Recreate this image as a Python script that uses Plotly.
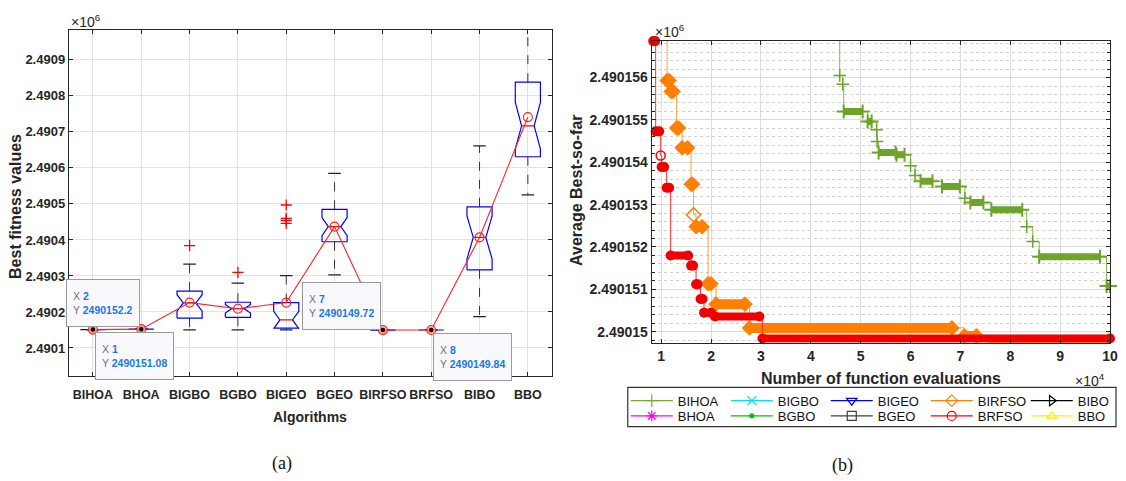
import plotly.graph_objects as go

FIG_W, FIG_H = 1126, 481

# ---------------- (a) best fitness of each algorithm ----------------
ALGORITHMS = ["BIHOA", "BHOA", "BIGBO", "BGBO", "BIGEO", "BGEO", "BIRFSO", "BRFSO", "BIBO", "BBO"]
Q1 = [2490151.08, 2490152.2, 2490183, 2490185, 2490155, 2490395, 2490149.72, 2490149.84, 2490317, 2490631]
MEDIAN = [2490151.08, 2490152.2, 2490225, 2490209, 2490178, 2490437, 2490149.72, 2490149.84, 2490407, 2490717]
Q3 = [2490151.08, 2490152.2, 2490258, 2490227, 2490226, 2490485, 2490149.72, 2490149.84, 2490492, 2490838]
WHISKER_LOW = [2490151.08, 2490152.2, 2490150, 2490150, 2490150, 2490303, 2490149.72, 2490149.84, 2490187, 2490525]
WHISKER_HIGH = [2490151.08, 2490152.2, 2490333, 2490280, 2490301, 2490585, 2490149.72, 2490149.84, 2490661, 2491000]
NOTCH_HALF = [0, 0, 23, 12, 24, 25, 0, 0, 60, 65]
MEAN = [2490151.08, 2490152.2, 2490226, 2490209, 2490226, 2490437, 2490149.72, 2490149.84, 2490407, 2490741]
OUTLIER_POS = [3, 4, 5, 5, 5, 5]
OUTLIER_VAL = [2490384, 2490310, 2490497, 2490460, 2490454, 2490446]
DATATIP_POS = [2, 1, 7, 8]

A_YTICKS = [2490100, 2490200, 2490300, 2490400, 2490500, 2490600, 2490700, 2490800, 2490900]
A_YTICKTEXT = ["2.4901", "2.4902", "2.4903", "2.4904", "2.4905", "2.4906", "2.4907", "2.4908", "2.4909"]

# ---------------- (b) average best-so-far curves (flat levels) ----------------
BIHOA_X0 = [45000, 45800, 46400, 46600, 51400, 53200, 53300, 53600, 57200, 60000, 60900, 62000, 66300, 70900, 72000, 76200, 83300, 84500, 85800, 99300]
BIHOA_X1 = [45500, 45800, 46400, 50400, 52200, 53200, 53300, 57000, 58800, 60000, 60900, 64400, 69900, 70900, 74600, 82400, 83300, 84500, 98000, 100000]
BIHOA_Y = [2490157.30, 2490156.05, 2490155.84, 2490155.20, 2490154.96, 2490154.77, 2490154.49, 2490154.23, 2490154.18,
           2490153.92, 2490153.69, 2490153.55, 2490153.43, 2490153.15, 2490153.05, 2490152.88, 2490152.48, 2490152.13,
           2490151.77, 2490151.08]

BIRFSO_X0 = [10600, 11200, 12000, 13100, 14200, 16000, 16500, 17000, 19400, 21000, 27700, 70800, 75600]
BIRFSO_X1 = [10900, 11600, 12400, 13500, 15300, 16300, 16500, 18200, 20000, 26800, 68300, 73200, 100000]
BIRFSO_Y = [2490157.30, 2490155.93, 2490155.67, 2490154.81, 2490154.34, 2490153.48, 2490152.76, 2490152.48, 2490151.13,
            2490150.65, 2490150.09, 2490149.90, 2490149.72]

BRFSO_X0 = [8400, 8900, 9900, 10100, 11100, 11900, 16000, 17000, 17900, 18600, 20800, 30300]
BRFSO_X1 = [8800, 9600, 9900, 10600, 11600, 15400, 16400, 17300, 18300, 20000, 29700, 100000]
BRFSO_Y = [2490156.86, 2490154.73, 2490154.16, 2490153.89, 2490153.40, 2490151.80, 2490151.56, 2490151.12, 2490150.77,
           2490150.45, 2490150.36, 2490149.84]

B_XTICKS = [10000, 20000, 30000, 40000, 50000, 60000, 70000, 80000, 90000, 100000]
B_XTICKTEXT = ["1", "2", "3", "4", "5", "6", "7", "8", "9", "10"]
B_YTICKS = [2490150, 2490151, 2490152, 2490153, 2490154, 2490155, 2490156]
B_YTICKTEXT = ["2.49015", "2.490151", "2.490152", "2.490153", "2.490154", "2.490155", "2.490156"]

LEGEND_ROW1 = ["BIHOA", "BIGBO", "BIGEO", "BIRFSO", "BIBO"]
LEGEND_ROW2 = ["BHOA", "BGBO", "BGEO", "BRFSO", "BBO"]

# ---------------- styling ----------------
FONT = "Liberation Sans, Arial, sans-serif"
SERIF = "Liberation Serif, Times New Roman, serif"
INK = "#262626"

A_XRANGE = [0.5, 10.5]
A_YRANGE = [2490023, 2490983]
B_XRANGE = [8100, 100000]
B_YRANGE = [2490149.74, 2490156.87]


def px_x(p):
    return p / FIG_W


def px_y(p):
    return 1 - p / FIG_H


fig = go.Figure()

# ---------- notched box plots ----------
BW = 0.26      # half width of a box (category units)
WAIST = 0.5    # notch waist relative to the box width
CAP = 0.13     # half width of the whisker caps

box_x, box_y, med_x, med_y = [], [], [], []
wh_x, wh_y, cap_x, cap_y = [], [], [], []
for i in range(len(ALGORITHMS)):
    c = i + 1
    q1, md, q3, n = Q1[i], MEDIAN[i], Q3[i], NOTCH_HALF[i]
    box_x += [c - BW, c - BW, c - BW * WAIST, c - BW, c - BW, c + BW, c + BW, c + BW * WAIST, c + BW, c + BW, c - BW, None]
    box_y += [q1, md - n, md, md + n, q3, q3, md + n, md, md - n, q1, q1, None]
    med_x += [c - BW * WAIST, c + BW * WAIST, None]
    med_y += [md, md, None]
    wh_x += [c, c, None, c, c, None]
    wh_y += [q3, WHISKER_HIGH[i], None, q1, WHISKER_LOW[i], None]
    cap_x += [c - CAP, c + CAP, None, c - CAP, c + CAP, None]
    cap_y += [WHISKER_HIGH[i], WHISKER_HIGH[i], None, WHISKER_LOW[i], WHISKER_LOW[i], None]

fig.add_trace(go.Scatter(x=wh_x, y=wh_y, mode="lines", line=dict(color="#333333", width=1, dash="dash"),
                         showlegend=False, hoverinfo="skip", xaxis="x", yaxis="y"))
fig.add_trace(go.Scatter(x=cap_x, y=cap_y, mode="lines", line=dict(color="#222222", width=1.2),
                         showlegend=False, hoverinfo="skip", xaxis="x", yaxis="y"))
fig.add_trace(go.Scatter(x=box_x, y=box_y, mode="lines", line=dict(color="#0000ff", width=1.2),
                         showlegend=False, hoverinfo="skip", xaxis="x", yaxis="y"))
fig.add_trace(go.Scatter(x=med_x, y=med_y, mode="lines", line=dict(color="#ff0000", width=1.2),
                         showlegend=False, hoverinfo="skip", xaxis="x", yaxis="y"))
fig.add_trace(go.Scatter(x=OUTLIER_POS, y=OUTLIER_VAL, mode="markers",
                         marker=dict(symbol="cross-thin-open", size=8, color="#ff0000", line=dict(color="#ff0000", width=1.3)),
                         showlegend=False, hoverinfo="skip", xaxis="x", yaxis="y"))

# mean of each algorithm, joined by a line
cats = list(range(1, len(ALGORITHMS) + 1))
fig.add_trace(go.Scatter(x=cats, y=MEAN, mode="lines+markers", line=dict(color="#ff2020", width=1.1),
                         marker=dict(symbol="circle-open", size=9, color="#ff2020", line=dict(width=1.1)),
                         showlegend=False, hoverinfo="skip", xaxis="x", yaxis="y"))

# data tips on the mean line
tip_y = [MEAN[p - 1] for p in DATATIP_POS]
fig.add_trace(go.Scatter(x=DATATIP_POS, y=tip_y, mode="markers",
                         marker=dict(symbol="circle", size=6, color="#000000",
                                     line=dict(color="#ff9a8a", width=1.5)),
                         showlegend=False, hoverinfo="skip", xaxis="x", yaxis="y"))


def fmt_value(v):
    return f"{v:.2f}".rstrip("0").rstrip(".")


TIP_SIDE = {2: ("right", "bottom", -1, 2), 1: ("left", "top", 2, -2),
            7: ("right", "bottom", -2, 0), 8: ("left", "top", 2, -3)}
annotations = []
for p, v in zip(DATATIP_POS, tip_y):
    xa, ya, xs, ys = TIP_SIDE[p]
    txt = (f"<span style='color:#707070'>X</span> <span style='color:#1a78e0'><b>{p}</b></span><br>"
           f"<span style='color:#707070'>Y</span> <span style='color:#1a78e0'><b>{fmt_value(v)}</b></span>")
    annotations.append(dict(x=p, y=v, xref="x", yref="y", text=txt, showarrow=False, align="left",
                            xanchor=xa, yanchor=ya, xshift=xs, yshift=ys, height=34, valign="middle",
                            font=dict(family=FONT, size=10.5, color="#1a78e0"),
                            bgcolor="#f9f9fd", bordercolor="#9a9a9a", borderwidth=1, borderpad=6))

# ---------- convergence curves ----------
def add_curve(x0s, x1s, ys, color, thin_color, band_w, fill_symbol, open_symbol, msize, mline):
    sx, sy = [], []
    for a, b, y in zip(x0s, x1s, ys):
        sx += [a, b]
        sy += [y, y]
    fig.add_trace(go.Scatter(x=sx, y=sy, mode="lines", line=dict(color=thin_color, width=1, shape="hv"),
                             showlegend=False, hoverinfo="skip", xaxis="x2", yaxis="y2"))
    bx, by, ox, oy = [], [], [], []
    for a, b, y in zip(x0s, x1s, ys):
        if y > B_YRANGE[1]:
            continue
        if b > a:
            bx += [a, b, None]
            by += [y, y, None]
        else:
            ox.append(a)
            oy.append(y)
    fig.add_trace(go.Scatter(x=bx, y=by, mode="lines+markers", line=dict(color=color, width=band_w),
                             marker=dict(symbol=fill_symbol, size=msize, color=color, line=dict(color=color, width=mline)),
                             cliponaxis=False, showlegend=False, hoverinfo="skip", xaxis="x2", yaxis="y2"))
    fig.add_trace(go.Scatter(x=ox, y=oy, mode="markers",
                             marker=dict(symbol=open_symbol, size=msize - 1, color=color, line=dict(color=color, width=1.5)),
                             cliponaxis=False, showlegend=False, hoverinfo="skip", xaxis="x2", yaxis="y2"))


add_curve(BIHOA_X0, BIHOA_X1, BIHOA_Y, "#6fa32a", "#86b84a", 7, "cross-thin-open", "cross-thin-open", 10, 2)
add_curve(BIRFSO_X0, BIRFSO_X1, BIRFSO_Y, "#ff8000", "#ffa040", 10, "diamond", "diamond-open", 12, 0)
add_curve(BRFSO_X0, BRFSO_X1, BRFSO_Y, "#f00000", "#ff3030", 8, "circle", "circle-open", 10, 0)

# ---------- legend entries ----------
LEGEND_STYLE = {
    "BIHOA": ("#77ac30", "cross-thin-open"),
    "BHOA": ("#ff00ff", "asterisk-open"),
    "BIGBO": ("#00e0f0", "x-thin-open"),
    "BGBO": ("#00c000", "circle"),
    "BIGEO": ("#0000ff", "triangle-down-open"),
    "BGEO": ("#404040", "square-open"),
    "BIRFSO": ("#ff8000", "diamond-open"),
    "BRFSO": ("#ff0000", "circle-open"),
    "BIBO": ("#000000", "triangle-right-open"),
    "BBO": ("#ffee00", "triangle-up-open"),
}
for leg, row in (("legend", LEGEND_ROW1), ("legend2", LEGEND_ROW2)):
    for name in row:
        col, sym = LEGEND_STYLE[name]
        size = 4 if sym == "circle" else 9
        fig.add_trace(go.Scatter(x=[None], y=[None], mode="lines+markers", name=name, legend=leg,
                                 line=dict(color=col, width=1.2),
                                 marker=dict(symbol=sym, size=size, color=col, line=dict(color=col, width=1.2)),
                                 xaxis="x2", yaxis="y2"))

# ---------- text ----------
def label(text, x, y, size, angle=0, weight="bold", family=FONT, color=INK, xanchor="center"):
    return dict(text=text, x=px_x(x), y=px_y(y), xref="paper", yref="paper", xanchor=xanchor, yanchor="middle",
                textangle=angle, showarrow=False, font=dict(family=family, size=size, color=color, weight=weight))


annotations += [
    label("×10<sup>6</sup>", 69, 21, 14, weight="normal", xanchor="left"),
    label("×10<sup>6</sup>", 655, 31, 14, weight="normal", xanchor="left"),
    label("×10<sup>4</sup>", 1111, 380, 14, weight="normal", xanchor="right"),
    label("Best fitness values", 15, 206, 16, angle=-90),
    label("Algorithms", 311, 417, 14),
    label("Average Best-so-far", 578, 190, 16, angle=-90),
    label("Number of function evaluations", 884, 378, 16),
    label("(a)", 283, 463, 18, weight="normal", family=SERIF, color="#111111"),
    label("(b)", 846, 465, 18, weight="normal", family=SERIF, color="#111111"),
]

axis_common = dict(showline=True, linecolor=INK, linewidth=1, mirror="ticks", ticks="inside", ticklen=4,
                   tickcolor=INK, zeroline=False, automargin=False, showgrid=True)

legend_common = dict(orientation="h", xanchor="left", yanchor="middle", itemwidth=42, entrywidth=43,
                     entrywidthmode="pixels", bgcolor="rgba(0,0,0,0)", borderwidth=0, tracegroupgap=0,
                     font=dict(family=FONT, size=13, color="#111111"), itemclick=False, itemdoubleclick=False)

fig.update_layout(
    width=FIG_W, height=FIG_H, margin=dict(l=0, r=0, t=0, b=0),
    paper_bgcolor="white", plot_bgcolor="white", template="none",
    xaxis=dict(axis_common, domain=[px_x(69), px_x(554)], range=A_XRANGE, tickvals=cats, ticktext=ALGORITHMS,
               gridcolor="#e2e2e2", ticklabelstandoff=7, tickangle=0,
               tickfont=dict(family=FONT, size=12.5, color=INK, weight="bold")),
    yaxis=dict(axis_common, domain=[px_y(375.7), px_y(30)], range=A_YRANGE, tickvals=A_YTICKS, ticktext=A_YTICKTEXT,
               gridcolor="#e2e2e2", tickfont=dict(family=FONT, size=13, color=INK, weight="bold")),
    xaxis2=dict(axis_common, domain=[px_x(654), px_x(1114)], range=B_XRANGE, tickvals=B_XTICKS, ticktext=B_XTICKTEXT,
                gridcolor="#dcdcdc", anchor="y2", tickangle=0,
                tickfont=dict(family=FONT, size=14, color=INK, weight="bold")),
    yaxis2=dict(axis_common, domain=[px_y(342.7), px_y(40.7)], range=B_YRANGE, tickvals=B_YTICKS, ticktext=B_YTICKTEXT,
                gridcolor="#dcdcdc", anchor="x2", tickfont=dict(family=FONT, size=14, color=INK, weight="bold"),
                minor=dict(tick0=2490150, dtick=0.2, showgrid=True, gridcolor="#d0d0d0", griddash="dot",
                           ticks="inside", ticklen=3, tickcolor=INK)),
    legend=dict(legend_common, x=px_x(628), y=px_y(400.7)),
    legend2=dict(legend_common, x=px_x(628), y=px_y(416)),
    shapes=[dict(type="rect", xref="paper", yref="paper", x0=px_x(630), x1=px_x(1120), y0=px_y(426.7), y1=px_y(387.3),
                 line=dict(color="#333333", width=1.2), layer="below")],
    annotations=annotations,
    hovermode=False,
)

fig.write_html("out.html")
